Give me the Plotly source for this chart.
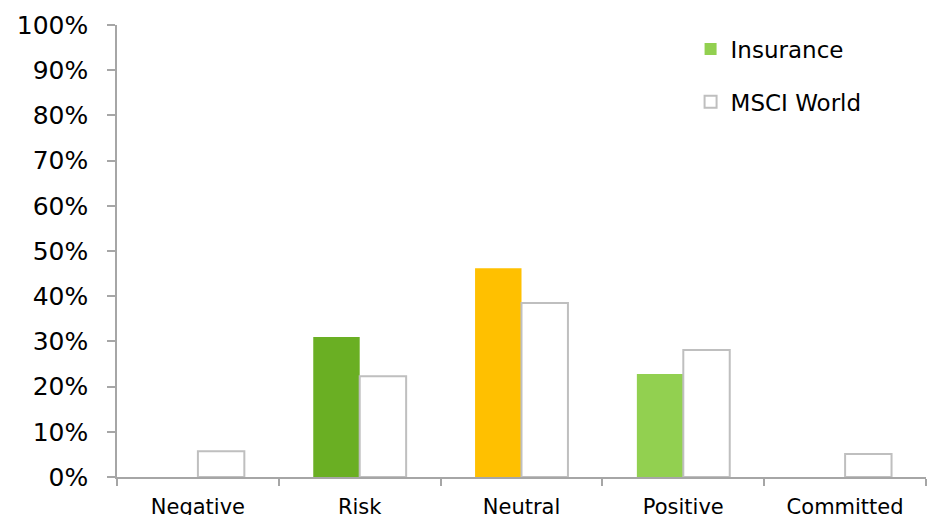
import plotly.graph_objects as go

categories = ["Negative", "Risk", "Neutral", "Positive", "Committed"]
insurance = [0.0, 0.31, 0.462, 0.228, 0.0]
msci_world = [0.057, 0.223, 0.385, 0.281, 0.051]
insurance_colors = ["#92D050", "#6AAF23", "#FFC000", "#92D050", "#92D050"]
y_ticks = [i / 10 for i in range(11)]

FONT = "Verdana, DejaVu Sans, sans-serif"
AXIS_GRAY = "#A6A6A6"

fig = go.Figure()
fig.add_trace(go.Bar(
    x=categories, y=insurance, name="Insurance",
    marker=dict(color=insurance_colors, line=dict(width=0)),
    legend="legend",
))
fig.add_trace(go.Bar(
    x=categories, y=msci_world, name="MSCI World",
    marker=dict(color="white", line=dict(color="#BFBFBF", width=2)),
    legend="legend2",
))

fig.update_layout(
    width=928, height=515,
    margin=dict(l=117, r=2, t=25, b=38, autoexpand=False),
    paper_bgcolor="white", plot_bgcolor="white",
    barmode="group", bargap=0.426, bargroupgap=0,
    font=dict(family=FONT, color="#000000"),
    legend=dict(x=0.709, y=0.947, xref="paper", yref="paper", yanchor="middle",
                xanchor="left", font=dict(size=23), bgcolor="rgba(0,0,0,0)"),
    legend2=dict(x=0.709, y=0.830, xref="paper", yref="paper", yanchor="middle",
                 xanchor="left", font=dict(size=23), bgcolor="rgba(0,0,0,0)"),
    showlegend=True,
)

fig.update_xaxes(
    type="category", range=[-0.5, 4.5],
    showline=True, linecolor=AXIS_GRAY, linewidth=1.5,
    ticks="outside", tickson="boundaries", ticklen=7, tickcolor=AXIS_GRAY, tickwidth=1.5,
    tickfont=dict(size=21), showgrid=False, zeroline=False,
    ticklabelstandoff=10,
)
fig.update_yaxes(
    range=[0, 1], tickvals=y_ticks, tickformat=".0%",
    showline=True, linecolor=AXIS_GRAY, linewidth=1.5,
    ticks="outside", ticklen=8, tickcolor=AXIS_GRAY, tickwidth=1.5,
    tickfont=dict(size=25), showgrid=False, zeroline=False,
    ticklabelstandoff=14,
)

fig.write_html("out.html")
